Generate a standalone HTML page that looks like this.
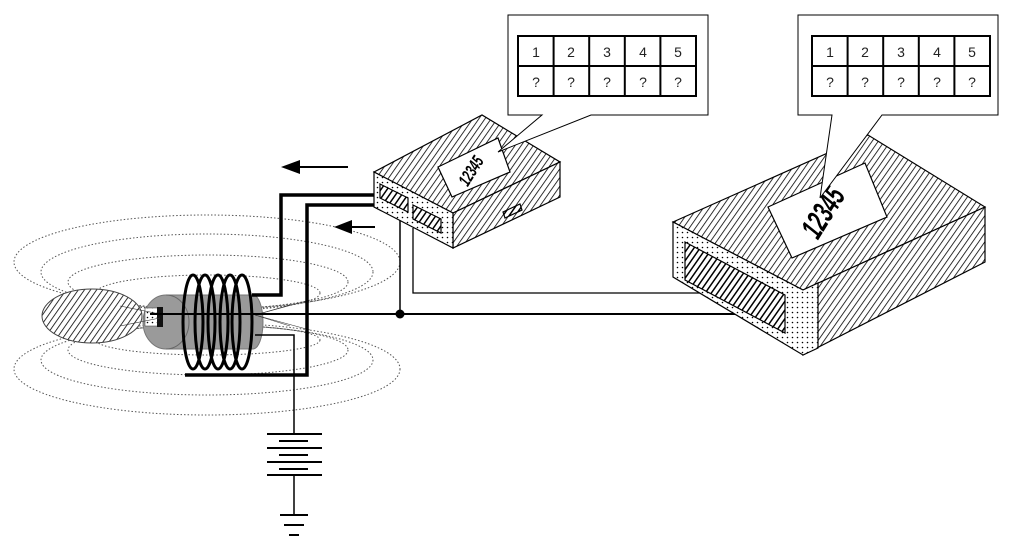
<!DOCTYPE html>
<html><head><meta charset="utf-8"><style>
html,body{margin:0;padding:0;background:#fff;width:1024px;height:552px;overflow:hidden}
svg{display:block}
text{font-family:"Liberation Sans",sans-serif}
</style></head><body>
<svg width="1024" height="552" viewBox="0 0 1024 552" xmlns="http://www.w3.org/2000/svg">
<defs>
<pattern id="hatch" width="5" height="5" patternUnits="userSpaceOnUse" patternTransform="rotate(35)">
<rect width="5" height="5" fill="#fff"/><line x1="0" y1="0" x2="0" y2="5" stroke="#000" stroke-width="1.6"/></pattern>
<pattern id="dhatch" width="5" height="5" patternUnits="userSpaceOnUse" patternTransform="rotate(35)">
<rect width="5" height="5" fill="#fff"/><line x1="0" y1="0" x2="0" y2="5" stroke="#000" stroke-width="3"/></pattern>
<pattern id="dots" width="5" height="5" patternUnits="userSpaceOnUse">
<rect width="5" height="5" fill="#fff"/><circle cx="2.5" cy="2.5" r="0.8" fill="#000"/></pattern>
</defs>

<!-- field lines -->
<g fill="none" stroke="#555" stroke-width="1" stroke-dasharray="1.5,2">
<ellipse cx="207" cy="262" rx="193" ry="47"/>
<ellipse cx="207" cy="272" rx="166" ry="38"/>
<ellipse cx="208" cy="282" rx="140" ry="27"/>
<ellipse cx="208" cy="293" rx="112" ry="18"/>
<ellipse cx="207" cy="369" rx="193" ry="46"/>
<ellipse cx="207" cy="360" rx="166" ry="35"/>
<ellipse cx="208" cy="350" rx="140" ry="25"/>
<ellipse cx="208" cy="340" rx="112" ry="15"/>
</g>

<!-- hatched ellipse -->
<ellipse cx="92" cy="316" rx="50" ry="27" fill="url(#hatch)" stroke="#444" stroke-width="1"/>
<!-- cylinder -->
<path d="M166,295 L253,295 A10,27 0 0 1 253,349 L166,349 A23,27 0 0 1 166,295 Z" fill="#9a9a9a" stroke="#777"/>
<path d="M166,295 A23,27 0 0 1 166,349" fill="none" stroke="#666"/>
<rect x="145" y="308" width="14" height="18" fill="url(#dots)" stroke="#333" stroke-width="0.5"/>
<rect x="157" y="307" width="6" height="20" fill="#111"/>
<!-- rays -->
<g stroke="#333" stroke-width="0.6">
<line x1="120" y1="306" x2="160" y2="314"/><line x1="120" y1="326" x2="160" y2="318"/>
<line x1="255" y1="315" x2="310" y2="300"/><line x1="255" y1="315" x2="310" y2="330"/>
<line x1="255" y1="315" x2="290" y2="305"/><line x1="255" y1="315" x2="290" y2="326"/>
</g>
<!-- coil -->
<g fill="none" stroke="#000" stroke-width="3">
<ellipse cx="193" cy="322" rx="10" ry="47"/>
<ellipse cx="205" cy="322" rx="10" ry="47"/>
<ellipse cx="218" cy="322" rx="10" ry="47"/>
<ellipse cx="230" cy="322" rx="10" ry="47"/>
<ellipse cx="242" cy="322" rx="10" ry="47"/>
</g>
<!-- main axis line -->
<line x1="150" y1="314" x2="742" y2="314" stroke="#000" stroke-width="2"/>
<!-- thick wires -->
<polyline points="252,295 281,295 281,195 383,195" fill="none" stroke="#000" stroke-width="3.5"/>
<polyline points="185,375 307,375 307,205 383,205" fill="none" stroke="#000" stroke-width="3.5"/>
<!-- thin wire to battery -->
<polyline points="255,335 294,335 294,434" fill="none" stroke="#000" stroke-width="1.5"/>
<g stroke="#000" stroke-width="2">
<line x1="267" y1="434" x2="322" y2="434"/><line x1="279" y1="441" x2="308" y2="441"/>
<line x1="267" y1="448" x2="322" y2="448"/><line x1="279" y1="455" x2="308" y2="455"/>
<line x1="267" y1="462" x2="322" y2="462"/><line x1="279" y1="469" x2="308" y2="469"/>
<line x1="267" y1="475" x2="322" y2="475"/>
<line x1="294" y1="475" x2="294" y2="515" stroke-width="1.5"/>
<line x1="280" y1="515" x2="308" y2="515"/><line x1="284" y1="525" x2="304" y2="525"/><line x1="289" y1="535" x2="299" y2="535"/>
</g>
<!-- junction wires -->
<polyline points="400,314 400,215 415,215" fill="none" stroke="#000" stroke-width="1.5"/>
<circle cx="400" cy="314" r="4.5" fill="#000"/>
<polyline points="413,228 413,293 700,293" fill="none" stroke="#000" stroke-width="1.3"/>
<!-- arrows -->
<line x1="296" y1="167" x2="348" y2="167" stroke="#000" stroke-width="2"/>
<path d="M281,167 L300,160 L300,174 Z" fill="#000"/>
<line x1="348" y1="227" x2="375" y2="227" stroke="#000" stroke-width="2"/>
<path d="M334,227 L352,220 L352,234 Z" fill="#000"/>

<!-- small box -->
<g stroke="#000" stroke-width="1.2">
<polygon points="374,172 482,115 560,162 453,213" fill="url(#hatch)"/>
<polygon points="453,213 560,162 560,197 453,248" fill="url(#hatch)"/>
<polygon points="374,172 453,213 453,248 374,207" fill="url(#dots)"/>
<polygon points="380,184 408,198 408,212 380,198" fill="url(#dhatch)"/>
<polygon points="413,205 441,219 441,233 413,219" fill="url(#dhatch)"/>
<polygon points="503,212 520,204 522,210 505,218" fill="url(#dhatch)"/>
<polygon points="438,167 498,138 510,172 452,197" fill="#fff"/>
</g>
<text x="0" y="0" transform="translate(476,174) rotate(-58) scale(0.8,1.25)" text-anchor="middle" font-size="14" font-weight="bold" font-style="italic">12345</text>

<!-- large box -->
<g stroke="#000" stroke-width="1.2">
<polygon points="673,222 868,135 985,207 803,290" fill="url(#hatch)"/>
<polygon points="803,290 985,207 985,262 803,355" fill="url(#hatch)"/>
<polygon points="673,222 803,290 818,283 818,348 803,355 673,277" fill="url(#dots)"/>
<polygon points="685,242 785,295 785,333 685,280" fill="url(#dhatch)"/>
<polygon points="768,207 865,163 887,217 792,258" fill="#fff"/>
</g>
<text x="0" y="0" transform="translate(832,218) rotate(-58) scale(0.8,1.3)" text-anchor="middle" font-size="24" font-weight="bold" font-style="italic">12345</text>

<!-- callout 1 -->
<polygon points="508,15 708,15 708,115 591,115 498,152 542,115 508,115" fill="#fff" stroke="#000" stroke-width="1"/>
<g stroke="#000" stroke-width="2" fill="none">
<rect x="518" y="36" width="178" height="60"/>
<line x1="518" y1="66" x2="696" y2="66"/>
<line x1="553.6" y1="36" x2="553.6" y2="96"/><line x1="589.2" y1="36" x2="589.2" y2="96"/>
<line x1="624.8" y1="36" x2="624.8" y2="96"/><line x1="660.4" y1="36" x2="660.4" y2="96"/>
</g>
<g font-size="14" text-anchor="middle" fill="#222">
<text x="536" y="57">1</text><text x="571" y="57">2</text><text x="607" y="57">3</text><text x="643" y="57">4</text><text x="678" y="57">5</text>
<text x="536" y="87">?</text><text x="571" y="87">?</text><text x="607" y="87">?</text><text x="643" y="87">?</text><text x="678" y="87">?</text>
</g>

<!-- callout 2 -->
<polygon points="798,15 998,15 998,115 882,115 820,198 832,115 798,115" fill="#fff" stroke="#000" stroke-width="1"/>
<g stroke="#000" stroke-width="2" fill="none">
<rect x="812" y="36" width="178" height="60"/>
<line x1="812" y1="66" x2="990" y2="66"/>
<line x1="847.6" y1="36" x2="847.6" y2="96"/><line x1="883.2" y1="36" x2="883.2" y2="96"/>
<line x1="918.8" y1="36" x2="918.8" y2="96"/><line x1="954.4" y1="36" x2="954.4" y2="96"/>
</g>
<g font-size="14" text-anchor="middle" fill="#222">
<text x="830" y="57">1</text><text x="865" y="57">2</text><text x="901" y="57">3</text><text x="937" y="57">4</text><text x="972" y="57">5</text>
<text x="830" y="87">?</text><text x="865" y="87">?</text><text x="901" y="87">?</text><text x="937" y="87">?</text><text x="972" y="87">?</text>
</g>
</svg>
</body></html>
